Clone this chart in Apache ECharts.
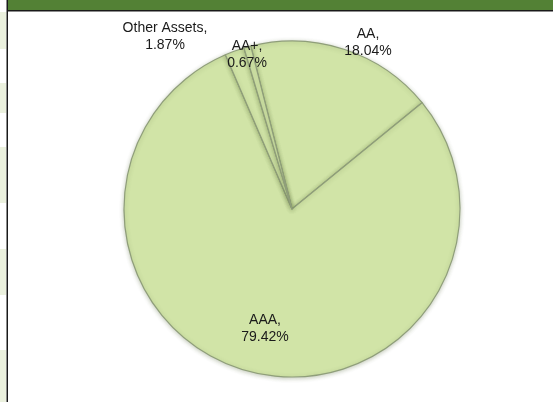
<!DOCTYPE html>
<html>
<head>
<meta charset="utf-8">
<script src="https://cdn.jsdelivr.net/npm/echarts@6/dist/echarts.min.js"></script>
<style>
  html, body { margin: 0; padding: 0; background: #fff; }
  #chart { width: 553px; height: 402px; }
</style>
</head>
<body>
<div id="chart"></div>
<script>
// ratings split (percent of portfolio)
const ratingNames = ['AA', 'AAA', 'Other Assets', 'AA+'];
const ratingValues = [18.04, 79.42, 1.87, 0.67];

// label spots
const labelSpots = [[368, 43], [265, 329], [165, 37], [247, 55]];

const chart = echarts.init(document.getElementById('chart'));

// stripes down the left edge
const stripes = [[12, 49], [83, 113], [147, 203], [249, 295], [350, 402]];
const deco = stripes.map(s => ({
  type: 'rect',
  shape: { x: 0, y: s[0], width: 6, height: s[1] - s[0] },
  style: { fill: '#ebf1de' },
  silent: true
}));
deco.push(
  { type: 'rect', shape: { x: 7, y: 0, width: 546, height: 10 }, style: { fill: '#538135' }, silent: true },
  { type: 'rect', shape: { x: 7, y: 10, width: 546, height: 1.5 }, style: { fill: '#1a1a1a' }, silent: true },
  { type: 'rect', shape: { x: 6.5, y: 0, width: 1.5, height: 402 }, style: { fill: '#1a1a1a' }, silent: true }
);

chart.setOption({
  animation: false,
  backgroundColor: '#fff',
  graphic: deco,
  series: [{
    type: 'pie',
    center: [292, 209],
    radius: 168,
    startAngle: 104.2,
    clockwise: true,
    data: ratingNames.map((n, i) => ({ name: n, value: ratingValues[i] })),
    itemStyle: {
      color: '#d1e4a7',
      borderColor: '#8f9e7a',
      borderWidth: 1.2,
      shadowColor: 'rgba(70,90,40,0.3)',
      shadowBlur: 4,
      shadowOffsetY: 1
    },
    label: {
      show: true,
      formatter: p => p.name + ',\n' + p.value.toFixed(2) + '%',
      fontFamily: 'Liberation Sans, Arial, sans-serif',
      fontSize: 14,
      lineHeight: 17,
      color: '#1a1a1a',
      align: 'center'
    },
    labelLine: { show: false },
    labelLayout: function (params) {
      const s = labelSpots[params.dataIndex];
      return { x: s[0], y: s[1], align: 'center', verticalAlign: 'middle' };
    },
    emphasis: { disabled: true }
  }]
});
</script>
</body>
</html>
